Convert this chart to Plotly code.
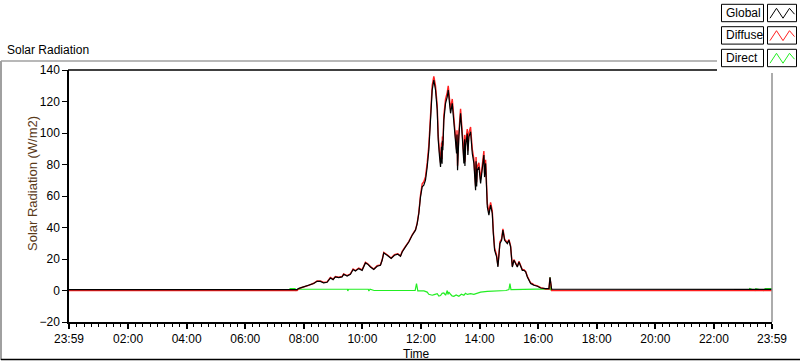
import plotly.graph_objects as go

# ---------------- data (hours of day, W/m2) ----------------
global_time = [-0.0167, 7.768, 7.812, 7.881, 8.165, 8.336, 8.452, 8.565, 8.677, 8.794,
               8.906, 8.999, 9.077, 9.190, 9.307, 9.361, 9.477, 9.590, 9.683, 9.761,
               9.874, 9.990, 10.103, 10.182, 10.274, 10.387, 10.503, 10.616, 10.674, 10.729,
               10.845, 10.982, 11.094, 11.207, 11.300, 11.358, 11.470, 11.583, 11.700, 11.812,
               11.870, 11.925, 11.983, 12.041, 12.096, 12.154, 12.212, 12.267, 12.325, 12.383,
               12.438, 12.496, 12.554, 12.588, 12.633, 12.667, 12.701, 12.72, 12.73, 12.746,
               12.780, 12.838, 12.896, 12.930, 12.974, 13.009, 13.067, 13.122, 13.180, 13.214,
               13.23, 13.248, 13.293, 13.351, 13.409, 13.464, 13.49, 13.50, 13.522, 13.580,
               13.60, 13.635, 13.693, 13.751, 13.806, 13.864, 13.88, 13.90, 13.922, 13.977,
               14.035, 14.093, 14.147, 14.17, 14.206, 14.264, 14.318, 14.376, 14.434, 14.469,
               14.513, 14.582, 14.626, 14.695, 14.752, 14.797, 14.855, 14.948, 15.002, 15.060,
               15.118, 15.173, 15.231, 15.289, 15.344, 15.402, 15.460, 15.515, 15.573, 15.631,
               15.686, 15.744, 15.802, 15.857, 15.973, 16.086, 16.257, 16.369, 16.404, 16.43,
               16.46, 23.983]

global_vals = [0.6, 0.6, 1.2, 1.6, 3.1, 4.4, 5.8, 5.8, 4.8, 5.2,
               7.9, 6.9, 8.6, 8.2, 8.6, 10.3, 9.2, 10.3, 13.3, 12.4,
               13.9, 12.8, 17.5, 16.7, 14.9, 13.3, 15.4, 16.0, 19.2, 23.8,
               22.4, 20.3, 22.4, 23.0, 21.7, 24.5, 27.7, 30.8, 35.1, 38.3,
               42.5, 48.9, 59.4, 65.8, 66.9, 70.1, 78.5, 89.1, 108.2, 127.3,
               133.6, 127.3, 114.6, 95.5, 84.9, 78.5, 91.2, 80.5, 95.0, 89.1,
               108.2, 118.8, 123.0, 127.3, 118.8, 112.5, 118.8, 108.2, 97.6, 87.0,
               99.0, 76.4, 97.6, 112.5, 97.6, 80.7, 96.0, 79.0, 91.2, 99.7,
               86.0, 97.6, 100.8, 87.0, 80.7, 63.7, 82.0, 66.0, 76.4, 78.5,
               68.0, 78.5, 86.0, 72.0, 80.7, 53.1, 47.8, 54.2, 48.9, 36.2,
               25.6, 21.3, 14.9, 29.8, 31.9, 38.3, 31.9, 29.8, 31.9, 27.7,
               14.9, 19.2, 17.1, 14.9, 18.1, 14.9, 12.8, 12.8, 11.8, 8.6,
               6.5, 4.4, 3.9, 3.3, 2.7, 1.6, 1.2, 1.2, 8.4, 4.6,
               0.8, 0.7]

diffuse_vals = [0.0, 0.0, 0.8, 1.6, 3.3, 4.6, 6.1, 6.1, 5.1, 5.5,
                8.3, 7.2, 8.9, 8.5, 8.9, 10.6, 9.5, 10.6, 13.7, 12.7,
                14.3, 13.1, 17.9, 17.0, 15.2, 13.6, 15.8, 16.3, 19.5, 24.2,
                22.7, 20.6, 22.8, 23.3, 22.0, 24.8, 28.0, 31.1, 35.4, 38.6,
                42.8, 49.5, 60.5, 67.8, 69.0, 72.3, 81.0, 92.0, 111.0, 130.2,
                136.0, 130.0, 117.2, 98.3, 87.8, 81.2, 94.0, 83.3, 97.8, 92.0,
                111.0, 121.5, 125.8, 130.0, 121.6, 115.2, 121.6, 111.0, 100.5, 89.8,
                101.8, 79.2, 100.3, 115.3, 100.3, 83.5, 98.8, 81.8, 94.0, 102.5,
                88.8, 100.3, 103.8, 89.8, 83.5, 66.5, 84.8, 68.8, 79.0, 81.0,
                70.5, 81.0, 88.5, 74.5, 83.0, 55.3, 49.8, 56.0, 50.6, 37.7,
                27.0, 22.5, 15.8, 30.8, 32.8, 39.2, 32.6, 30.4, 32.4, 28.2,
                15.4, 19.6, 17.5, 15.3, 18.5, 15.3, 13.2, 13.2, 12.2, 9.0,
                6.9, 4.8, 4.3, 3.6, 3.0, 1.8, 1.0, 1.0, 8.0, 4.4,
                0.0, 0.0]

direct_time = [-0.0167, 7.50, 7.53, 7.70, 7.73, 7.80, 9.49, 9.50, 9.53, 10.20,
               10.22, 10.26, 10.40, 11.80, 11.847, 11.87, 11.891, 12.10, 12.212, 12.267,
               12.383, 12.45, 12.554, 12.61, 12.667, 12.72, 12.780, 12.84, 12.896, 12.92,
               12.951, 13.009, 13.06, 13.122, 13.20, 13.293, 13.38, 13.464, 13.52, 13.580,
               13.693, 13.806, 13.922, 14.035, 14.264, 14.606, 14.90, 15.002, 15.037, 15.071,
               15.173, 16.315, 16.390, 16.404, 16.42, 16.50, 23.20, 23.22, 23.40, 23.43,
               23.70, 23.75, 23.983]

direct_vals = [0.0, 0.0, 1.2, 1.2, 0.0, 0.8, 0.8, -0.3, 0.8, 0.8,
               -0.3, 0.8, 0.0, 0.0, 4.4, 0.5, -0.3, -0.3, -1.0, -2.4,
               -3.0, -2.6, -2.0, -3.5, -3.2, -1.8, -1.6, -3.0, 0.0, -2.5,
               -1.0, -2.4, -3.4, -3.7, -2.8, -3.7, -2.4, -3.0, -1.8, -2.5,
               -2.0, -2.4, -1.6, -1.0, -0.6, -0.3, 0.0, 0.6, 4.4, 0.6,
               0.6, 1.0, 1.0, 8.4, 0.5, 0.0, 0.0, 1.2, 0.0, 1.2,
               0.0, 1.2, 1.2]

x_tick_vals = [-0.0167, 2, 4, 6, 8, 10, 12, 14, 16, 18, 20, 22, 23.983]
x_tick_text = ["23:59", "02:00", "04:00", "06:00", "08:00", "10:00", "12:00",
               "14:00", "16:00", "18:00", "20:00", "22:00", "23:59"]
y_tick_vals = [-20, 0, 20, 40, 60, 80, 100, 120, 140]

series_names = ["Global", "Diffuse", "Direct"]
series_colors = ["#000000", "#ff2020", "#22ee22"]

# ---------------- layout geometry (pixels) ----------------
W, H = 800, 361
L, R, T, B = 69, 28, 70, 39
PW, PH = W - L - R, H - T - B


def px(x):
    return (x - L) / PW


def py(y):
    return (H - B - y) / PH


FONT = "Liberation Sans, Arial, sans-serif"

fig = go.Figure()
fig.add_trace(go.Scatter(x=direct_time, y=direct_vals, mode="lines",
                         line=dict(color=series_colors[2], width=1.2), name="Direct"))
fig.add_trace(go.Scatter(x=global_time, y=diffuse_vals, mode="lines",
                         line=dict(color=series_colors[1], width=1.4), name="Diffuse"))
fig.add_trace(go.Scatter(x=global_time, y=global_vals, mode="lines",
                         line=dict(color=series_colors[0], width=1.2), name="Global"))

shapes = []
# outer panel frame
shapes.append(dict(type="line", xref="paper", yref="paper", x0=px(1), x1=px(718), y0=py(61), y1=py(61),
                   line=dict(color="#a0a0a0", width=1.5)))
shapes.append(dict(type="line", xref="paper", yref="paper", x0=px(1), x1=px(1), y0=py(61), y1=py(360),
                   line=dict(color="#a0a0a0", width=2)))
shapes.append(dict(type="line", xref="paper", yref="paper", x0=px(1), x1=px(800), y0=py(359.5), y1=py(359.5),
                   line=dict(color="#000000", width=1.5)))
# plot area frame
shapes.append(dict(type="line", xref="paper", yref="paper", x0=px(68), x1=1, y0=1, y1=1,
                   line=dict(color="#000000", width=1.5)))
shapes.append(dict(type="line", xref="paper", yref="paper", x0=1, x1=1, y0=0, y1=1,
                   line=dict(color="#909090", width=1.5)))

# legend panel
shapes.append(dict(type="rect", xref="paper", yref="paper", x0=px(717), x1=px(801), y0=py(0), y1=py(73),
                   fillcolor="#ffffff", line=dict(width=0), layer="above"))
row_tops = [4.3, 26.7, 49.3]
row_h = 17.4
annotations = []
for name, color, top in zip(series_names, series_colors, row_tops):
    bot = top + row_h
    shapes.append(dict(type="rect", xref="paper", yref="paper", x0=px(721.5), x1=px(763.5),
                       y0=py(bot), y1=py(top), fillcolor="#ffffff",
                       line=dict(color="#000000", width=1), layer="above"))
    shapes.append(dict(type="rect", xref="paper", yref="paper", x0=px(767.5), x1=px(796.5),
                       y0=py(bot), y1=py(top), fillcolor="#ffffff",
                       line=dict(color="#000000", width=1), layer="above"))
    lo, hi = bot - 3.5, top + 4
    pts = [(770, lo), (776.5, hi), (783, lo), (789.5, hi), (794.5, lo - 4)]
    path = "M " + " L ".join(f"{px(a):.5f},{py(b):.5f}" for a, b in pts)
    shapes.append(dict(type="path", xref="paper", yref="paper", path=path,
                       line=dict(color=color, width=1), layer="above"))
    annotations.append(dict(x=px(724), y=py(top + row_h / 2), xref="paper", yref="paper",
                            text=name, showarrow=False, xanchor="left", yanchor="middle",
                            font=dict(family=FONT, size=12, color="#000000")))

annotations.append(dict(x=px(5), y=py(50), xref="paper", yref="paper", text="Solar Radiation",
                        showarrow=False, xanchor="left", yanchor="middle",
                        font=dict(family=FONT, size=12, color="#000000")))
annotations.append(dict(x=px(32), y=py(184), xref="paper", yref="paper", text="Solar Radiation (W/m2)",
                        showarrow=False, xanchor="center", yanchor="middle", textangle=-90,
                        font=dict(family=FONT, size=13, color="#5a3a1a")))
annotations.append(dict(x=px(416), y=py(354), xref="paper", yref="paper", text="Time",
                        showarrow=False, xanchor="center", yanchor="middle",
                        font=dict(family=FONT, size=12, color="#000000")))

fig.update_layout(
    width=W, height=H, autosize=False,
    margin=dict(l=L, r=R, t=T, b=B, pad=0),
    paper_bgcolor="#ffffff", plot_bgcolor="#ffffff",
    showlegend=False,
    shapes=shapes, annotations=annotations,
    font=dict(family=FONT, size=12, color="#000000"),
    xaxis=dict(range=[-0.0167, 23.983], tickmode="array", tickvals=x_tick_vals, ticktext=x_tick_text,
               ticks="outside", ticklen=5, tickwidth=1.5, tickcolor="#000000",
               showline=True, linecolor="#000000", linewidth=1.5,
               showgrid=False, zeroline=False,
               tickfont=dict(family=FONT, size=12, color="#000000"),
               minor=dict(ticks="outside", ticklen=3, tickwidth=1, tickcolor="#000000",
                          dtick=0.25, tick0=0, showgrid=False)),
    yaxis=dict(range=[-20, 140], tickmode="array", tickvals=y_tick_vals,
               ticks="outside", ticklen=5, tickwidth=1, tickcolor="#000000",
               showline=True, linecolor="#000000", linewidth=1.5,
               showgrid=False, zeroline=False,
               tickfont=dict(family=FONT, size=12, color="#000000")),
)

fig.write_html("out.html", config={"displayModeBar": False},
               post_script="document.body.style.margin='0';document.body.style.padding='0';"
                           "document.body.style.overflow='hidden';")
